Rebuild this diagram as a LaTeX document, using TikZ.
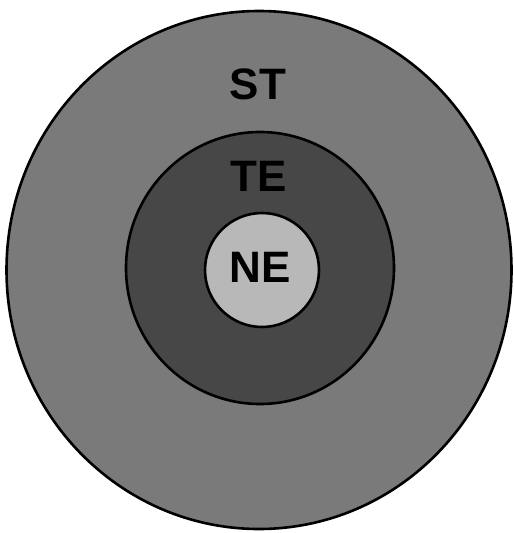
\documentclass[tikz,border=0pt]{standalone}
\usepackage{fontspec}
\setmainfont{Liberation Sans}
\usetikzlibrary{shapes.geometric}
\begin{document}
\begin{tikzpicture}[x=1pt,y=-1pt,
  ring/.style={ellipse,draw=black,line width=2.6pt,inner sep=0pt},
  lbl/.style={font=\bfseries\fontsize{44}{44}\selectfont,text=black,inner sep=0pt}]
\useasboundingbox[fill=white] (0,0) rectangle (514,533);
\node[ring,fill=black!52,minimum width=505,minimum height=518] (st) at (259,270) {};
\node[ring,fill=black!72,minimum width=268,minimum height=272] (te) at (260,268) {};
\node[ring,fill=black!28,minimum width=114,minimum height=114] (ne) at (262,270) {};
\node[lbl] (stl) at (258,84) {ST};
\node[lbl] (tel) at (259,176) {TE};
\node[lbl] (nel) at (260,267) {NE};
\end{tikzpicture}
\end{document}
